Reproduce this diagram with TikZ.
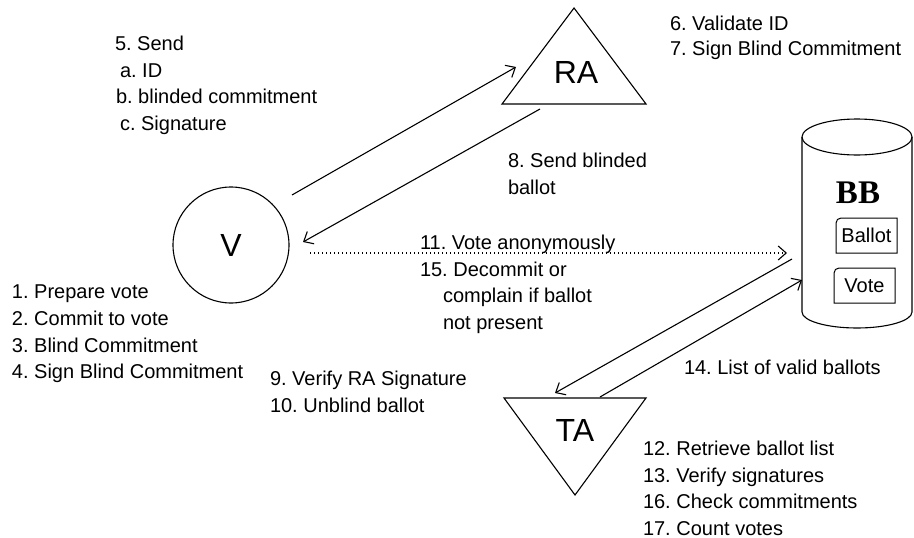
\documentclass[tikz,border=0pt]{standalone}
\usepackage{fontspec}
\setmainfont{Liberation Sans}
\newfontfamily\bbfont{Liberation Serif}
\usetikzlibrary{arrows.meta}
\frenchspacing
\begin{document}
\frenchspacing
\begin{tikzpicture}[x=1pt,y=-1pt,
  every node/.style={inner sep=0pt, outer sep=0pt},
  lbl/.style={anchor=north west, align=left, font=\fontsize{20}{26.7}\selectfont\frenchspacing},
  big/.style={font=\fontsize{32}{36}\selectfont},
  shp/.style={line width=1.1pt},
  conn/.style={line width=1.1pt, -{Straight Barb[length=8pt,width=14pt,line width=1.1pt]}},
  dotconn/.style={line width=1.1pt, dash pattern=on 1.2pt off 2.8pt, -{Straight Barb[length=8pt,width=14pt,line width=1.1pt]}},
  boxlbl/.style={minimum width=61pt, minimum height=35pt, font=\fontsize{20}{22}\selectfont},
]
\useasboundingbox (0,0) rectangle (914,538);

% Voter
\node[draw, circle, shp, minimum size=116pt, big] (V) at (231,245) {V};

% RA triangle
\coordinate (raTop) at (574,8);
\coordinate (raLeft) at (502,104);
\coordinate (raRight) at (646,104);
\draw[shp, line join=miter] (raTop) -- (raRight) -- (raLeft) -- cycle;
\node[big] (RA) at (576,72) {RA};

% TA triangle
\coordinate (taBot) at (575,495);
\coordinate (taLeft) at (504,398);
\coordinate (taRight) at (646,398);
\draw[shp, line join=miter] (taLeft) -- (taRight) -- (taBot) -- cycle;
\node[big] (TA) at (575,430) {TA};

% BB cylinder
\coordinate (cylTL) at (802,137);
\coordinate (cylTR) at (912,137);
\coordinate (cylBL) at (802,312);
\draw[shp] (857,137) ellipse [x radius=55, y radius=18];
\draw[shp] (cylTL) -- (cylBL) arc[start angle=180, end angle=0, x radius=55, y radius=16] -- (cylTR);
\node[font=\bbfont\bfseries\fontsize{33}{36}\selectfont] (BB) at (858,193) {BB};

\node[boxlbl] (ballot) at (866.5,235.5) {Ballot};
\draw[line width=1pt] (ballot.south west) [rounded corners=5pt] -- (ballot.north west) [sharp corners] -- (ballot.north east) -- (ballot.south east) -- cycle;
\node[boxlbl] (vote) at (864.5,285.5) {Vote};
\draw[line width=1pt] (vote.south west) [rounded corners=5pt] -- (vote.north west) [sharp corners] -- (vote.north east) -- (vote.south east) -- cycle;

% connectors
\coordinate (vOut) at (292,195);
\coordinate (raIn) at (516,67);
\coordinate (raOut) at (540,109);
\coordinate (vIn) at (303,242);
\coordinate (vDot) at (310,253);
\coordinate (bbIn) at (787,253);
\coordinate (bbOut) at (792,259);
\coordinate (taIn) at (555,393);
\coordinate (taOut) at (600,397);
\coordinate (bbIn2) at (802,280);
\draw[conn] (vOut) -- (raIn);
\draw[conn] (raOut) -- (vIn);
\draw[dotconn] (vDot) -- (bbIn);
\draw[conn] (bbOut) -- (taIn);
\draw[conn] (taOut) -- (bbIn2);

% labels
\node[lbl] (l1) at (12,285) {1. Prepare vote\\2. Commit to vote\\3. Blind Commitment\\4. Sign Blind Commitment};
\node[lbl] (l5) at (115,36) {5. Send\\\hspace*{5pt}a. ID\\\hspace*{1pt}b. blinded commitment\\\hspace*{5pt}c. Signature};
\node[lbl, font=\fontsize{20}{25}\selectfont\frenchspacing] (l6) at (670,16) {6. Validate ID\\7. Sign Blind Commitment};
\node[lbl] (l8) at (508,153) {8. Send blinded\\ballot};
\node[lbl] (l11) at (420,235) {11. Vote anonymously\\15. Decommit or\\\hspace*{23pt}complain if ballot\\\hspace*{23pt}not present};
\node[lbl] (l9) at (270,371) {9. Verify RA Signature\\10. Unblind ballot};
\node[lbl] (l14) at (684,360) {14. List of valid ballots};
\node[lbl] (l12) at (643,441) {12. Retrieve ballot list\\13. Verify signatures\\16. Check commitments\\17. Count votes};
\end{tikzpicture}
\end{document}
